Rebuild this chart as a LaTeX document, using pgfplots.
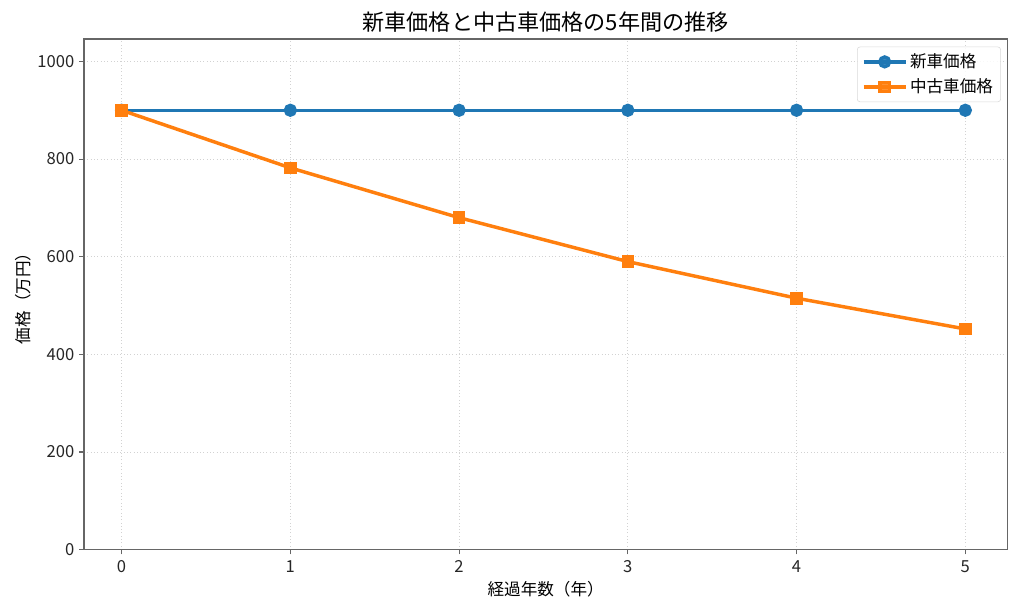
\documentclass[border=0pt]{standalone}
\usepackage{pgfplots}
\pgfplotsset{compat=1.18}
\usepackage{fontspec}
\setmainfont{Noto Sans CJK JP}
\definecolor{c1}{HTML}{1F77B4}
\definecolor{c2}{HTML}{FF7F0E}
\definecolor{spine}{HTML}{666666}
\begin{document}
\begin{tikzpicture}
\begin{axis}[
  at={(0,0)}, anchor=south west,
  scale only axis,
  width=665.3bp, height=367.9bp,
  xmin=-0.223, xmax=5.249,
  ymin=0, ymax=1046,
  xtick={0,1,2,3,4,5},
  ytick={0,200,400,600,800,1000},
  tick align=outside,
  major tick length=3.5bp,
  tick style={spine, line width=0.8bp},
  xtick pos=bottom, ytick pos=left,
  axis line style={spine, line width=1.1bp},
  grid=major,
  major grid style={gray!35, dotted, line width=0.6bp},
  /pgf/number format/assume math mode=true,
  /pgf/number format/set thousands separator={},
  ticklabel style={font=\fontsize{12}{14}\selectfont, text=black!85},
  xticklabel style={yshift=-1bp},
  clip=false,
  legend style={font=\fontsize{12}{14}\selectfont, draw=gray!30, fill=white, fill opacity=0.85, text opacity=1, rounded corners=2bp, at={(rel axis cs:0.993,0.985)}, anchor=north east, inner xsep=3.5bp, inner ysep=3bp, row sep=2.5bp},
  legend cell align=left,
  legend image code/.code={\draw[#1] (0bp,0bp) -- (15bp,0bp) -- (30bp,0bp); \path[#1, mark repeat=2, mark phase=2] plot coordinates {(0bp,0bp) (15bp,0bp) (30bp,0bp)};},
]
\addplot[c1, line width=2.5bp, mark=*, mark size=3.5bp, mark options={solid}] coordinates {
(0,900) (1,900) (2,900) (3,900) (4,900) (5,900)};
\addlegendentry{新車価格}
\addplot[c2, line width=2.5bp, mark=square*, mark size=3.3bp, mark options={solid}] coordinates {
(0,900) (1,782) (2,680) (3,590) (4,515) (5,452)};
\addlegendentry{中古車価格}
\coordinate (tt) at (rel axis cs:0.5,1);
\coordinate (xl) at (rel axis cs:0.5,0);
\coordinate (yl) at (rel axis cs:0,0.5);
\end{axis}
\node[anchor=base, font=\fontsize{16}{19}\selectfont] at ([yshift=6bp]tt) {新車価格と中古車価格の5年間の推移};
\node[anchor=center, font=\fontsize{12}{14}\selectfont] at ([yshift=-28.5bp]xl) {経過年数（年）};
\node[anchor=center, rotate=90, font=\fontsize{12}{14}\selectfont] at ([xshift=-43.6bp]yl) {価格（万円）};
\pgfresetboundingbox
\path[use as bounding box] (-60.5bp,-46.8bp) rectangle (677.3bp,396bp);
\end{tikzpicture}
\end{document}
